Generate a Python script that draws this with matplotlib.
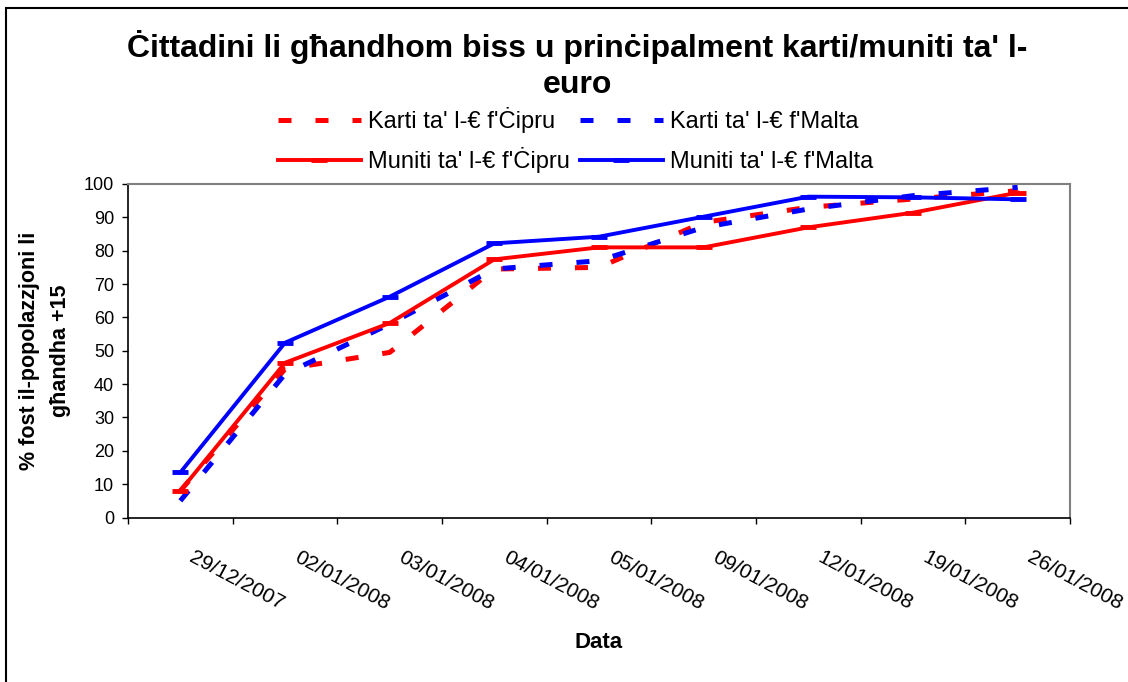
import matplotlib
matplotlib.use("Agg")
import matplotlib.pyplot as plt
from matplotlib.patches import Rectangle
from matplotlib.transforms import ScaledTranslation

plt.rcParams["font.family"] = ["Liberation Sans", "DejaVu Sans"]

# Survey dates (categories) and % of the 15+ population per series
DATES = ["29/12/2007", "02/01/2008", "03/01/2008", "04/01/2008", "05/01/2008",
         "09/01/2008", "12/01/2008", "19/01/2008", "26/01/2008"]
KARTI_CIPRU = [8, 44.5, 49.5, 74.5, 75, 88.5, 93, 95.5, 98]
KARTI_MALTA = [5, 43, 58, 74.5, 77, 87, 92.5, 96.5, 99]
MUNITI_CIPRU = [8, 46.4, 58.3, 77.4, 81, 81, 87, 91.4, 97.4]
MUNITI_MALTA = [13.5, 52.4, 66.2, 82.2, 84.2, 90.2, 96.2, 96, 95.4]

LABELS = ["Karti ta' l-€ f'Ċipru", "Karti ta' l-€ f'Malta",
          "Muniti ta' l-€ f'Ċipru", "Muniti ta' l-€ f'Malta"]
TITLE = "Ċittadini li għandhom biss u prinċipalment karti/muniti ta' l-\neuro"
YLABEL = "% fost il-popolazzjoni li\ngħandha +15"

RED = "#FF0000"
BLUE = "#0000FF"
W, H = 1128, 682

fig = plt.figure(figsize=(W / 100, H / 100), dpi=100)
ax = fig.add_axes([128 / W, 1 - 517.5 / H, 942 / W, 333.5 / H])

x = list(range(len(DATES)))
dash = (2.6, 4.8)
h_kc, = ax.plot(x, KARTI_CIPRU, color=RED, lw=3.6, dashes=dash)
h_km, = ax.plot(x, KARTI_MALTA, color=BLUE, lw=3.6, dashes=dash)
h_mc, = ax.plot(x, MUNITI_CIPRU, color=RED, lw=2.8, marker="_", ms=11, mew=3.5)
h_mm, = ax.plot(x, MUNITI_MALTA, color=BLUE, lw=2.8, marker="_", ms=11, mew=3.5)

ax.set_xlim(-0.5, len(DATES) - 0.5)
ax.set_ylim(0, 100)
ax.set_yticks(range(0, 101, 10))
ax.set_xticks([i - 0.5 for i in range(len(DATES) + 1)])
ax.set_xticklabels([])
ax.set_xticks(x, DATES, minor=True)
ax.tick_params(axis="both", which="major", direction="out", length=4, width=1,
               color="black")
ax.tick_params(axis="y", labelsize=13, pad=6)
ax.tick_params(axis="x", which="minor", length=0, pad=22, labelsize=15,
               labelrotation=-28)
shift = ScaledTranslation(0.15, 0, fig.dpi_scale_trans)
for lbl in ax.get_xticklabels(minor=True):
    lbl.set_ha("left")
    lbl.set_va("top")
    lbl.set_rotation_mode("anchor")
    lbl.set_transform(lbl.get_transform() + shift)

for side in ("top", "right"):
    ax.spines[side].set_color("#808080")
    ax.spines[side].set_linewidth(1.5)
for side in ("left", "bottom"):
    ax.spines[side].set_color("black")
    ax.spines[side].set_linewidth(1.2)

ax.set_ylabel(YLABEL, fontsize=15.5, fontweight="bold", linespacing=1.65)
ax.yaxis.set_label_coords((45 - 128) / 942, 0.5)
ax.yaxis.label.set_va("center")
ax.set_xlabel("Data", fontsize=16, fontweight="bold")
ax.xaxis.set_label_coords(0.5, (517.5 - 643) / 333.5)
ax.xaxis.label.set_va("center")

fig.text(0.512, 1 - 65 / H, TITLE, ha="center", va="center", fontsize=23,
         fontweight="bold", linespacing=1.28)

# one legend per entry so both rows share a baseline, as in the original
entries = [(h_kc, LABELS[0], 278, 133), (h_km, LABELS[1], 580, 133),
           (h_mc, LABELS[2], 278, 173), (h_mm, LABELS[3], 580, 173)]
for handle, text, lx, ly in entries:
    fig.legend([handle], [text], loc="lower left",
               bbox_to_anchor=(lx / W, 1 - ly / H), frameon=False, fontsize=17,
               handlelength=3.5, handletextpad=0.3, borderpad=0, borderaxespad=0)

# chart frame (right and bottom edges fall outside the picture)
fig.add_artist(Rectangle((6 / W, -0.05), 1.2, 1.05 - 8 / H, transform=fig.transFigure,
                         fill=False, edgecolor="black", lw=1.5))

fig.savefig("out.png", dpi=100)
